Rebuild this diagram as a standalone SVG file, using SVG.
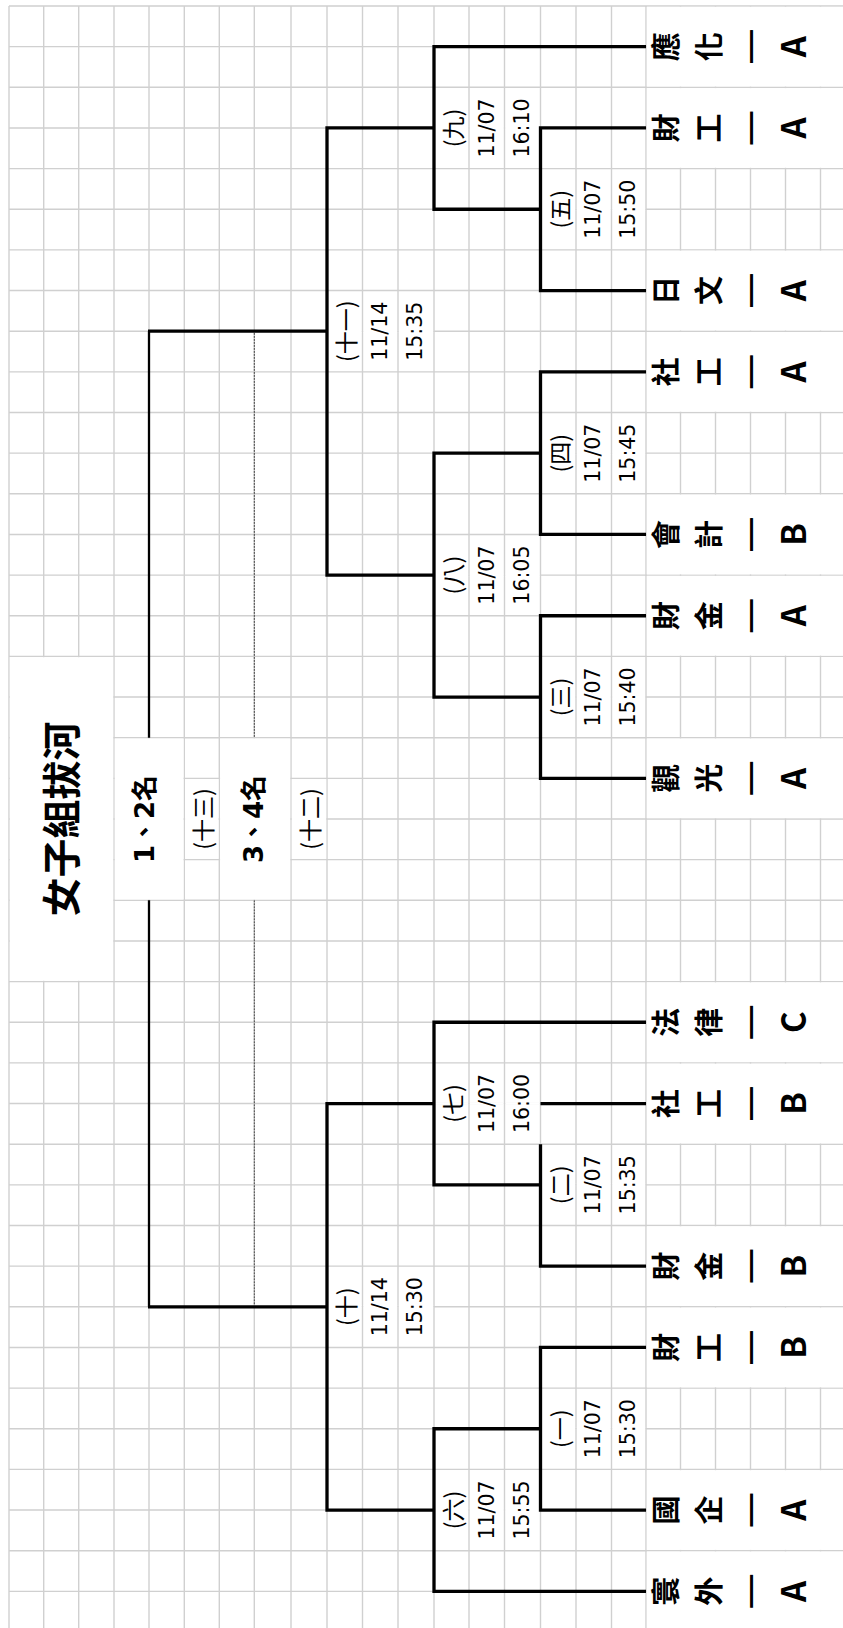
<svg xmlns="http://www.w3.org/2000/svg" width="843" height="1628" viewBox="0 0 843 1628">
<style>
.grid{stroke:#d0d0d0;stroke-width:1.4;fill:none}
.wipe{stroke:#fff;stroke-width:2.6;fill:none}
.cell{fill:#fff}
.br{stroke:#000;stroke-width:3.3;fill:none;stroke-linejoin:miter}
.fin{stroke:#000;stroke-width:2.3;fill:none}
.dash{stroke:#444;stroke-width:1;stroke-dasharray:2 1;fill:none}
.lbl{font-family:"DejaVu Sans","Noto Sans CJK TC",sans-serif;font-size:20.5px;fill:#000;text-anchor:middle;dominant-baseline:central}
.num{font-family:"Noto Sans CJK TC",sans-serif;font-size:23px;fill:#000;text-anchor:middle;dominant-baseline:central}
.team{font-family:"Noto Sans CJK TC",sans-serif;font-size:29px;font-weight:bold;fill:#000;text-anchor:middle;dominant-baseline:central}
.lat{font-family:"Noto Sans CJK TC",sans-serif;font-size:33px;font-weight:bold;fill:#000;text-anchor:middle;dominant-baseline:central}
.title{font-family:"Noto Sans CJK TC",sans-serif;font-size:39px;font-weight:bold;fill:#000;text-anchor:middle;dominant-baseline:central}
.rank{font-family:"DejaVu Sans","Noto Sans CJK TC",sans-serif;font-size:26px;font-weight:bold;fill:#000;text-anchor:middle;dominant-baseline:central}
</style>
<defs>
<text id="dash" class="team" transform="rotate(-90) scale(1.6 1)">－</text>
</defs>
<rect width="843" height="1628" fill="#fff"/>
<g id="grid">
<path class="grid" d="M9 6V1628M43.7 6V1628M78.7 6V1628M114 6V1628M149 6V1628M184.3 6V1628M219.3 6V1628M254.3 6V1628M291 6V1628M327 6V1628M362.5 6V1628M398 6V1628M434 6V1628M469 6V1628M504.5 6V1628M540.5 6V1628M576 6V1628M611.5 6V1628M646 6V1628M680.5 6V1628M715.5 6V1628M750.5 6V1628M785.5 6V1628M820.5 6V1628"/>
<path class="grid" d="M9 6H843M9 46.65H843M9 87.3H843M9 127.95H843M9 168.6H843M9 209.25H843M9 249.9H843M9 290.55H843M9 331.2H843M9 371.85H843M9 412.5H843M9 453.15H843M9 493.8H843M9 534.45H843M9 575.1H843M9 615.75H843M9 656.4H843M9 697.05H843M9 737.7H843M9 778.35H843M9 819H843M9 859.65H843M9 900.3H843M9 940.95H843M9 981.6H843M9 1022.25H843M9 1062.9H843M9 1103.55H843M9 1144.2H843M9 1184.85H843M9 1225.5H843M9 1266.15H843M9 1306.8H843M9 1347.45H843M9 1388.1H843M9 1428.75H843M9 1469.4H843M9 1510.05H843M9 1550.7H843M9 1591.35H843"/>
<rect class="cell" x="646.8" y="6.8" width="197" height="79.7"/>
<rect class="cell" x="646.8" y="88.1" width="197" height="79.7"/>
<rect class="cell" x="646.8" y="250.7" width="197" height="79.7"/>
<rect class="cell" x="646.8" y="332" width="197" height="79.7"/>
<rect class="cell" x="646.8" y="494.6" width="197" height="79.7"/>
<rect class="cell" x="646.8" y="575.9" width="197" height="79.7"/>
<rect class="cell" x="646.8" y="738.5" width="197" height="79.7"/>
<rect class="cell" x="646.8" y="982.4" width="197" height="79.7"/>
<rect class="cell" x="646.8" y="1063.7" width="197" height="79.7"/>
<rect class="cell" x="646.8" y="1226.3" width="197" height="79.7"/>
<rect class="cell" x="646.8" y="1307.6" width="197" height="79.7"/>
<rect class="cell" x="646.8" y="1470.2" width="197" height="79.7"/>
<rect class="cell" x="646.8" y="1551.5" width="197" height="80"/>
<rect class="cell" x="9.8" y="657.2" width="103.4" height="323.6"/>
<rect class="cell" x="114.8" y="738.5" width="68.7" height="161"/>
<rect class="cell" x="185.1" y="779.15" width="33.4" height="79.7"/>
<rect class="cell" x="220.1" y="738.5" width="70.1" height="161"/>
<rect class="cell" x="291.8" y="779.15" width="34.4" height="79.7"/>
<path class="wipe" d="M434.8 127.95H468.2M469.8 127.95H503.7M505.3 127.95H539.7"/>
<path class="wipe" d="M541.3 209.25H575.2M576.8 209.25H610.7M612.3 209.25H645.2"/>
<path class="wipe" d="M327.8 331.2H361.7M363.3 331.2H397.2M398.8 331.2H433.2"/>
<path class="wipe" d="M541.3 453.15H575.2M576.8 453.15H610.7M612.3 453.15H645.2"/>
<path class="wipe" d="M434.8 575.1H468.2M469.8 575.1H503.7M505.3 575.1H539.7"/>
<path class="wipe" d="M541.3 697.05H575.2M576.8 697.05H610.7M612.3 697.05H645.2"/>
<path class="wipe" d="M434.8 1103.55H468.2M469.8 1103.55H503.7M505.3 1103.55H539.7"/>
<path class="wipe" d="M541.3 1184.85H575.2M576.8 1184.85H610.7M612.3 1184.85H645.2"/>
<path class="wipe" d="M327.8 1306.8H361.7M363.3 1306.8H397.2M398.8 1306.8H433.2"/>
<path class="wipe" d="M541.3 1428.75H575.2M576.8 1428.75H610.7M612.3 1428.75H645.2"/>
<path class="wipe" d="M434.8 1510.05H468.2M469.8 1510.05H503.7M505.3 1510.05H539.7"/>
</g>
<g id="connectors">
<path class="br" d="M646 46.65H434V209.25H540.5"/>
<path class="br" d="M646 127.95H540.5V290.55H646"/>
<path class="br" d="M646 371.85H540.5V534.45H646"/>
<path class="br" d="M646 615.75H540.5V778.35H646"/>
<path class="br" d="M540.5 453.15H434V697.05H540.5"/>
<path class="br" d="M434 127.95H327V575.1H434"/>
<path class="br" d="M327 331.2H148"/>
<path class="fin" d="M149 331.2V737.7M149 900.3V1306.8"/>
<path class="dash" d="M254.3 332.9V737.7M254.3 900.3V1305.1"/>
<path class="br" d="M327 1306.8H148"/>
<path class="br" d="M434 1103.55H327V1510.05H434"/>
<path class="br" d="M646 1022.25H434V1184.85H540.5"/>
<path class="br" d="M540.5 1103.55H646"/>
<path class="br" d="M540.5 1144.2V1266.15H646"/>
<path class="br" d="M646 1347.45H540.5V1510.05H646"/>
<path class="br" d="M540.5 1428.75H434V1591.35H646"/>
</g>
<g id="title">
<text class="title" transform="translate(58.5 819) rotate(-90)">女子組拔河</text>
</g>
<g id="rank12">
<text class="rank" transform="translate(145 819) rotate(-90)">1、2名</text>
<text class="num" transform="translate(201.5 819) rotate(-90)">(十三)</text>
</g>
<g id="rank34">
<text class="rank" transform="translate(254 819) rotate(-90)">3、4名</text>
<text class="num" transform="translate(309 819) rotate(-90)">(十二)</text>
</g>
<g id="m9"><text class="num" transform="translate(452 127.95) rotate(-90)">(九)</text><text class="lbl" transform="translate(486.75 127.95) rotate(-90)">11/07</text><text class="lbl" transform="translate(521.5 127.95) rotate(-90)">16:10</text></g>
<g id="m5"><text class="num" transform="translate(558.75 209.25) rotate(-90)">(五)</text><text class="lbl" transform="translate(593 209.25) rotate(-90)">11/07</text><text class="lbl" transform="translate(627.75 209.25) rotate(-90)">15:50</text></g>
<g id="m11"><text class="num" transform="translate(345.25 331.2) rotate(-90)">(十一)</text><text class="lbl" transform="translate(380 331.2) rotate(-90)">11/14</text><text class="lbl" transform="translate(415 331.2) rotate(-90)">15:35</text></g>
<g id="m4"><text class="num" transform="translate(558.75 453.15) rotate(-90)">(四)</text><text class="lbl" transform="translate(593 453.15) rotate(-90)">11/07</text><text class="lbl" transform="translate(627.75 453.15) rotate(-90)">15:45</text></g>
<g id="m8"><text class="num" transform="translate(452 575.1) rotate(-90)">(八)</text><text class="lbl" transform="translate(486.75 575.1) rotate(-90)">11/07</text><text class="lbl" transform="translate(521.5 575.1) rotate(-90)">16:05</text></g>
<g id="m3"><text class="num" transform="translate(558.75 697.05) rotate(-90)">(三)</text><text class="lbl" transform="translate(593 697.05) rotate(-90)">11/07</text><text class="lbl" transform="translate(627.75 697.05) rotate(-90)">15:40</text></g>
<g id="m7"><text class="num" transform="translate(452 1103.55) rotate(-90)">(七)</text><text class="lbl" transform="translate(486.75 1103.55) rotate(-90)">11/07</text><text class="lbl" transform="translate(521.5 1103.55) rotate(-90)">16:00</text></g>
<g id="m2"><text class="num" transform="translate(558.75 1184.85) rotate(-90)">(二)</text><text class="lbl" transform="translate(593 1184.85) rotate(-90)">11/07</text><text class="lbl" transform="translate(627.75 1184.85) rotate(-90)">15:35</text></g>
<g id="m10"><text class="num" transform="translate(345.25 1306.8) rotate(-90)">(十)</text><text class="lbl" transform="translate(380 1306.8) rotate(-90)">11/14</text><text class="lbl" transform="translate(415 1306.8) rotate(-90)">15:30</text></g>
<g id="m1"><text class="num" transform="translate(558.75 1428.75) rotate(-90)">(一)</text><text class="lbl" transform="translate(593 1428.75) rotate(-90)">11/07</text><text class="lbl" transform="translate(627.75 1428.75) rotate(-90)">15:30</text></g>
<g id="m6"><text class="num" transform="translate(452 1510.05) rotate(-90)">(六)</text><text class="lbl" transform="translate(486.75 1510.05) rotate(-90)">11/07</text><text class="lbl" transform="translate(521.5 1510.05) rotate(-90)">15:55</text></g>
<g id="t1"><text class="team" transform="translate(664 46.65) rotate(-90)">應</text><text class="team" transform="translate(707 46.65) rotate(-90)">化</text><text class="team" transform="translate(750 46.65) rotate(-90) scale(1.6 1)">－</text><text class="lat" transform="translate(792 46.65) rotate(-90)">A</text></g>
<g id="t2"><text class="team" transform="translate(664 127.95) rotate(-90)">財</text><text class="team" transform="translate(707 127.95) rotate(-90)">工</text><text class="team" transform="translate(750 127.95) rotate(-90) scale(1.6 1)">－</text><text class="lat" transform="translate(792 127.95) rotate(-90)">A</text></g>
<g id="t3"><text class="team" transform="translate(664 290.55) rotate(-90)">日</text><text class="team" transform="translate(707 290.55) rotate(-90)">文</text><text class="team" transform="translate(750 290.55) rotate(-90) scale(1.6 1)">－</text><text class="lat" transform="translate(792 290.55) rotate(-90)">A</text></g>
<g id="t4"><text class="team" transform="translate(664 371.85) rotate(-90)">社</text><text class="team" transform="translate(707 371.85) rotate(-90)">工</text><text class="team" transform="translate(750 371.85) rotate(-90) scale(1.6 1)">－</text><text class="lat" transform="translate(792 371.85) rotate(-90)">A</text></g>
<g id="t5"><text class="team" transform="translate(664 534.45) rotate(-90)">會</text><text class="team" transform="translate(707 534.45) rotate(-90)">計</text><text class="team" transform="translate(750 534.45) rotate(-90) scale(1.6 1)">－</text><text class="lat" transform="translate(792 534.45) rotate(-90)">B</text></g>
<g id="t6"><text class="team" transform="translate(664 615.75) rotate(-90)">財</text><text class="team" transform="translate(707 615.75) rotate(-90)">金</text><text class="team" transform="translate(750 615.75) rotate(-90) scale(1.6 1)">－</text><text class="lat" transform="translate(792 615.75) rotate(-90)">A</text></g>
<g id="t7"><text class="team" transform="translate(664 778.35) rotate(-90)">觀</text><text class="team" transform="translate(707 778.35) rotate(-90)">光</text><text class="team" transform="translate(750 778.35) rotate(-90) scale(1.6 1)">－</text><text class="lat" transform="translate(792 778.35) rotate(-90)">A</text></g>
<g id="t8"><text class="team" transform="translate(664 1022.25) rotate(-90)">法</text><text class="team" transform="translate(707 1022.25) rotate(-90)">律</text><text class="team" transform="translate(750 1022.25) rotate(-90) scale(1.6 1)">－</text><text class="lat" transform="translate(792 1022.25) rotate(-90)">C</text></g>
<g id="t9"><text class="team" transform="translate(664 1103.55) rotate(-90)">社</text><text class="team" transform="translate(707 1103.55) rotate(-90)">工</text><text class="team" transform="translate(750 1103.55) rotate(-90) scale(1.6 1)">－</text><text class="lat" transform="translate(792 1103.55) rotate(-90)">B</text></g>
<g id="t10"><text class="team" transform="translate(664 1266.15) rotate(-90)">財</text><text class="team" transform="translate(707 1266.15) rotate(-90)">金</text><text class="team" transform="translate(750 1266.15) rotate(-90) scale(1.6 1)">－</text><text class="lat" transform="translate(792 1266.15) rotate(-90)">B</text></g>
<g id="t11"><text class="team" transform="translate(664 1347.45) rotate(-90)">財</text><text class="team" transform="translate(707 1347.45) rotate(-90)">工</text><text class="team" transform="translate(750 1347.45) rotate(-90) scale(1.6 1)">－</text><text class="lat" transform="translate(792 1347.45) rotate(-90)">B</text></g>
<g id="t12"><text class="team" transform="translate(664 1510.05) rotate(-90)">國</text><text class="team" transform="translate(707 1510.05) rotate(-90)">企</text><text class="team" transform="translate(750 1510.05) rotate(-90) scale(1.6 1)">－</text><text class="lat" transform="translate(792 1510.05) rotate(-90)">A</text></g>
<g id="t13"><text class="team" transform="translate(664 1591.35) rotate(-90)">寰</text><text class="team" transform="translate(707 1591.35) rotate(-90)">外</text><text class="team" transform="translate(750 1591.35) rotate(-90) scale(1.6 1)">－</text><text class="lat" transform="translate(792 1591.35) rotate(-90)">A</text></g>
</svg>
